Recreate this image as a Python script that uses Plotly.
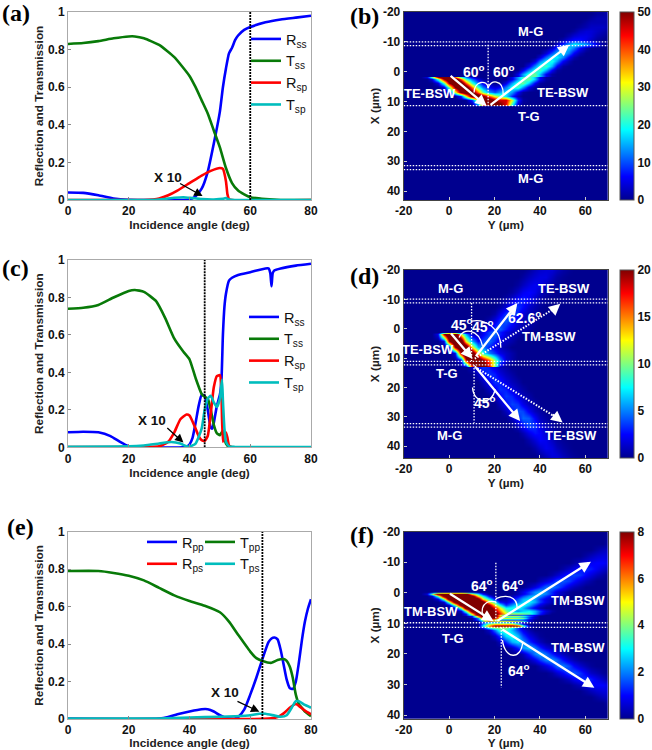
import numpy as np
import plotly.graph_objects as go

W, H = 652, 750
FONT = "Liberation Sans"
JET = [[0, "#00008f"], [0.125, "#0000ff"], [0.375, "#00ffff"], [0.625, "#ffff00"], [0.875, "#ff0000"], [1, "#800000"]]
BLUE, GREEN, RED, CYAN = "#0000ff", "#087a08", "#ff0000", "#00bdbd"

# ---------- panel (a) ----------
A_RSS_X = [0, 5, 10, 15, 20, 25, 35, 40, 42, 44, 46, 48, 50, 51, 52, 53, 54, 55, 56, 58, 60, 65, 70, 75, 80]
A_RSS_Y = [.04, .038, .025, .008, .001, 0, 0, .002, .02, .06, .15, .3, .47, .6, .7, .78, .81, .85, .875, .905, .92, .945, .96, .97, .98]
A_TSS_X = [0, 5, 10, 15, 20, 22, 25, 30, 35, 40, 42, 44, 46, 48, 50, 52, 54, 56, 58, 60, 65, 70, 80]
A_TSS_Y = [.83, .835, .845, .86, .87, .87, .86, .825, .76, .66, .6, .53, .46, .37, .28, .17, .09, .05, .03, .015, .005, 0, 0]
A_RSP_X = [0, 25, 28, 30, 33, 36, 40, 44, 47, 50, 51, 52, 52.5, 53, 54, 80]
A_RSP_Y = [0, 0, .003, .008, .025, .05, .09, .13, .155, .17, .165, .10, .03, .005, 0, 0]
A_TSP_X = [0, 25, 30, 35, 38, 41, 44, 48, 51, 52, 53, 55, 80]
A_TSP_Y = [0, 0, .003, .012, .015, .01, .005, .003, .006, .01, .003, 0, 0]

# ---------- panel (c) ----------
C_RSS_X = [0, 5, 10, 14, 17, 20, 22, 38, 39, 40, 41, 42, 43, 44, 45, 46, 47, 47.5, 48, 49, 50, 50.5, 51, 51.5, 52, 53, 54, 56, 60, 65, 66, 66.6, 67, 67.4, 68, 70, 75, 80]
C_RSS_Y = [.08, .083, .08, .06, .03, .005, 0, 0, .003, .015, .05, .13, .22, .28, .275, .2, .105, .1, .13, .22, .28, .35, .6, .75, .82, .89, .905, .92, .935, .955, .955, .93, .86, .93, .945, .955, .97, .98]
C_TSS_X = [0, 5, 10, 15, 20, 22, 25, 29, 32, 35, 38, 40, 42, 44, 45, 46, 47, 48, 49, 50, 51, 51.5, 52, 53, 55, 80]
C_TSS_Y = [.74, .745, .76, .8, .835, .84, .83, .78, .69, .58, .51, .47, .37, .285, .27, .26, .2, .12, .075, .065, .09, .05, .02, .003, 0, 0]
C_RSP_X = [0, 26, 30, 33, 35, 37, 39, 40, 42, 43, 44, 45, 46, 47, 48, 49, 50, 50.5, 51, 51.5, 52, 52.5, 53, 54, 80]
C_RSP_Y = [.002, .002, .005, .03, .08, .15, .175, .17, .1, .06, .038, .035, .06, .18, .32, .38, .385, .3, .03, .05, .08, .05, .01, 0, 0]
C_TSP_X = [0, 20, 25, 30, 34, 37, 39, 40, 42, 44, 45, 46, 47, 48, 49, 50, 50.7, 51, 51.5, 52, 53, 55, 80]
C_TSP_Y = [.003, .005, .01, .02, .028, .02, .005, .003, .02, .1, .2, .26, .275, .24, .215, .26, .36, .25, .1, .03, .005, .002, .002]

# ---------- panel (e) ----------
E_RPP_X = [0, 30, 33, 36, 40, 44, 46, 48, 50, 52, 55, 56, 58, 60, 62, 64, 66, 67, 68, 69, 70, 71, 72, 73, 74, 75, 76, 77, 78, 79, 80]
E_RPP_Y = [.002, .002, .01, .025, .04, .052, .052, .04, .02, .005, .002, .01, .05, .13, .22, .32, .41, .43, .435, .425, .37, .29, .21, .165, .16, .2, .3, .42, .52, .59, .64]
E_TPP_X = [0, 10, 15, 20, 25, 30, 35, 40, 45, 50, 53, 56, 60, 62, 64, 67, 69, 71, 72, 73, 74, 75, 76, 77, 78, 80]
E_TPP_Y = [.79, .79, .78, .765, .74, .7, .66, .63, .605, .57, .52, .45, .36, .325, .31, .3, .315, .32, .31, .28, .22, .13, .08, .06, .04, .015]
E_RPS_X = [0, 60, 66, 69, 71, 73, 75, 76, 78, 80]
E_RPS_Y = [0, 0, .002, .01, .03, .06, .08, .07, .045, .025]
E_TPS_X = [0, 30, 40, 50, 55, 60, 63, 65, 68, 70, 72, 74, 75, 76, 78, 80]
E_TPS_Y = [.002, .003, .008, .012, .015, .02, .028, .028, .018, .012, .02, .07, .095, .095, .075, .06]

# ---------- field maps: rows, X -> [(first Y, values every 2.5 um)] ----------
GRID_Y = np.arange(-20, 72.5, 2.5)
B_ROWS = {
    -21: [(62.5, [0, 1, 1, 2, 1])], -19.4: [(62.5, [0, 1, 1, 2, 1])], -17.9: [(60, [0, 1, 2, 2, 2, 1])],
    -16.5: [(57.5, [0, 1, 2, 2, 2, 2, 1])], -15: [(55, [0, 1, 2, 3, 3, 3, 2, 1])], -13.6: [(52.5, [0, 1, 3, 4, 4, 3, 2, 1])],
    -12.1: [(50, [0, 2, 4, 5, 5, 4, 2, 1])], -10.7: [(47.5, [0, 2, 5, 7, 7, 5, 3, 1])],
    -9.2: [(45, [0, 3, 8, 14, 18, 16, 14, 10, 5, 1])], -7.8: [(42.5, [0, 3, 9, 14, 16, 12, 6, 2])],
    -6.3: [(40, [0, 4, 10, 15, 17, 12, 6, 2])], -4.9: [(37.5, [0, 4, 11, 17, 18, 13, 6, 2])],
    -3.45: [(35, [0, 4, 12, 18, 20, 14, 6, 2])], -2: [(32.5, [0, 5, 13, 20, 22, 15, 6, 1])],
    -.56: [(30, [0, 5, 13, 20, 22, 15, 6, 1])], .88: [(27.5, [0, 5, 14, 22, 24, 16, 6, 1])],
    1.3: [(27.5, [0, 5, 14, 22, 24, 16, 6, 1])],
    1.7: [(-12.5, [0, 4, 22, 48, 60, 60, 40, 22, 12, 5, 1]), (25, [0, 5, 14, 22, 24, 16, 6, 1])],
    2.33: [(-10, [0, 4, 22, 48, 60, 60, 40, 22, 12, 5, 1]), (25, [0, 5, 14, 22, 24, 16, 6, 1])],
    3.77: [(-7.5, [0, 4, 22, 48, 60, 60, 40, 22, 12, 5, 2]), (22.5, [0, 5, 14, 22, 24, 16, 6, 1])],
    5.22: [(-5, [0, 4, 24, 50, 60, 58, 38, 22, 12, 6, 4, 6, 12, 20, 22, 14, 5, 1])],
    6.66: [(-2.5, [0, 6, 28, 52, 60, 55, 38, 24, 14, 10, 14, 18, 14, 6, 1])],
    8.11: [(2.5, [0, 8, 30, 55, 60, 52, 40, 30, 24, 18, 8, 2])],
    9.55: [(7.5, [0, 8, 30, 55, 60, 50, 46, 46, 30, 8, 1])],
    11: [(10, [0, 12, 40, 55, 55, 52, 45, 20, 3, 0])],
    11.6: [], 44: [],
}
D_ROWS = {
    -21: [(32.5, [0, .4, 1, 1.4, 1.6, 1.6, 1, .5, .2])], -20: [(32.5, [0, .4, 1, 1.4, 1.6, 1.6, 1, .5, .2])],
    -17.5: [(30, [0, .4, 1, 1.5, 1.8, 1.8, 1.1, .5, .2])], -15: [(27.5, [0, .4, 1.1, 1.8, 2.2, 1.9, 1.1, .5, .2])],
    -12.5: [(25, [0, .4, 1.2, 2.2, 2.6, 2.1, 1.2, .5, .2])], -10: [(22.5, [0, .5, 1.4, 2.6, 3, 2.4, 1.3, .6, .2])],
    -7.5: [(20, [0, .5, 1.6, 3, 3.5, 2.6, 1.4, .7, .3])], -5: [(17.5, [0, .6, 2, 3.5, 4, 3, 1.6, .8, .5])],
    -2.5: [(15, [0, .7, 2, 3.5, 4.2, 3, 1.6, .9, .6, .4])], 0: [(12.5, [0, .8, 2.2, 3.5, 4.4, 3, 1.8, 1, .7, .5])],
    1.2: [(10, [.3, .8, 2.2, 3.5, 4.5, 3, 1.8, 1, .7, .5])],
    1.8: [(-7.5, [0, 2, 19, 26, 24, 12, 6, 1, 0]), (10, [0, 1, 2.2, 3.6, 4.6, 3, 1.8, 1, .6])],
    4: [(-5, [0, 2, 19, 26, 24, 12, 6, 1, 0]), (7.5, [0, 1, 2.5, 3.8, 4.8, 3.2, 1.8, 1, .6])],
    6.2: [(-2.5, [0, 2, 19, 26, 24, 13, 6, 2, 1]), (7.5, [1, 2.5, 4, 5, 3.2, 1.8, 1, .5])],
    8.3: [(0, [0, 2, 19, 26, 24, 14, 8, 5, 3.5, 2, 1.2, .6])],
    10.5: [(2.5, [0, 2, 18, 26, 24, 20, 16, 10, 5, 1.5, .6])],
    12.6: [(5, [0, 3, 17, 22, 22, 18, 10, 2, .3])],
    13.1: [(7.5, [0, 1, 2.6, 3.4, 3, 1.8, 1, .5])], 15.5: [(10, [0, 1, 2.6, 3.4, 3, 1.8, 1, .5])],
    18: [(12.5, [0, 1, 2.2, 3.4, 3, 1.8, 1, .5])], 20.5: [(15, [0, 1, 2.2, 3.4, 3, 1.8, 1, .5])],
    23: [(17.5, [0, 1, 2.3, 3.6, 3.1, 1.8, 1, .5])], 25.5: [(20, [0, 1, 2.5, 3.8, 3.4, 2, 1, .5])],
    28: [(22.5, [0, 1, 2.6, 4.2, 3.8, 2.2, 1, .5])], 30.5: [(25, [0, 1, 2.8, 4.5, 4.2, 2.4, 1, .5])],
    33: [(27.5, [0, 1, 2.6, 3.8, 3.4, 2, 1, .5])], 35.5: [(30, [0, .8, 2, 2.8, 2.5, 1.5, .7, .3])],
    38: [(32.5, [0, .7, 1.6, 2.4, 2.1, 1.2, .5, .2])], 40.5: [(35, [0, .6, 1.4, 2.1, 1.8, 1, .5, .2])],
    43: [(37.5, [0, .5, 1.2, 1.8, 1.6, .9, .4, .2])], 45: [(40, [0, .5, 1.1, 1.6, 1.4, .8, .3, .2])],
}
F_ROWS = {
    -21: [], -16: [(67.5, [0, .2, .3])], -14: [(62.5, [0, .2, .4, .5, .5])], -12: [(57.5, [0, .2, .4, .6, .7, .7, .6, .4])],
    -10: [(52.5, [0, .2, .4, .7, .9, 1, 1, .8, .6, .3])], -8: [(47.5, [0, .2, .5, .8, 1.1, 1.3, 1.2, .9, .6, .4, .2])],
    -6: [(42.5, [0, .2, .5, .9, 1.3, 1.5, 1.4, 1, .7, .4, .2])], -4: [(37.5, [0, .3, .6, 1, 1.5, 1.7, 1.5, 1.1, .7, .4, .2])],
    -2: [(32.5, [0, .3, .7, 1.2, 1.8, 2, 1.7, 1.2, .7, .4, .2])], -.3: [(27.5, [0, .3, .8, 1.4, 2.1, 2.4, 2, 1.3, .7, .4, .1])],
    .3: [(-12.5, [0, .6, 4, 9, 10, 10, 10, 10, 9, 5, 3, 1, 0]), (27.5, [0, .3, .8, 1.4, 2.1, 2.4, 2, 1.3, .7, .4, .1])],
    1: [(-10, [0, .6, 4, 9, 10, 10, 10, 10, 9, 5, 3, 1, 0]), (25, [0, .3, .8, 1.5, 2.2, 2.6, 2.1, 1.4, .8, .4, .1])],
    2: [(-7.5, [0, .6, 4, 9, 10, 10, 10, 10, 9, 5, 3, 1, 0]), (25, [.3, .9, 1.6, 2.4, 2.8, 2.2, 1.4, .8, .4, .1])],
    3: [(-5, [0, .6, 4, 9, 10, 10, 10, 10, 9, 5, 3, 1, .4]), (25, [.6, 1.2, 1.9, 2.6, 3, 2.4, 1.5, .8, .4, .1])],
    4: [(-2.5, [0, .6, 4, 9, 10, 10, 10, 9, 8, 5, 3, 1, .5]), (22.5, [.6, 1.3, 2.1, 2.9, 3.2, 2.5, 1.5, .8, .3])],
    5: [(0, [0, .6, 4, 9, 10, 10, 10, 9, 7, 5, 3, 1.2, .8]), (20, [1, 1.5, 2.3, 3.1, 3.3, 2.5, 1.5, .8, .3])],
    6: [(2.5, [0, .6, 4, 9, 10, 10, 9.5, 8, 6, 4, 2.5, 2, 2.6, 3, 2.4, 1.5, .7, .2])],
    6.7: [(5, [0, 1, 5, 9, 10, 10, 9, 7, 5, 4.4, 4.4, 4, 3.6, 2.4, 1.2, .4])],
    7.2: [(5, [0, 1, 4, 9, 10, 10, 9, 5, 2, 1.5, 1.5, 1.5, 1.2, 1, .5])],
    7.6: [(7.5, [0, 1, 6, 9, 10, 9, 6, 4.6, 4.6, 4.4, 3.6, 2, .8])],
    8: [(7.5, [0, 1, 4, 8, 9.5, 8, 2.5, 1.5, 1.5, 1.5, 1.2, .8])],
    8.3: [(10, [0, 2, 7, 9, 8, 5, 5, 5, 4.6, 4.2, 1.6, .5])],
    8.7: [(10, [0, 1.5, 4, 7, 4, 1.8, 1.5, 1.5, 1.5, 1.2, .6])],
    9.1: [(12.5, [0, 4, 6, 5.5, 5, 5, 5, 4.5, 3.6, 1])],
    9.6: [(12.5, [0, 1, 2, 2, 2, 2, 1.5, 1, .5])],
    10.2: [(12.5, [0, 2, 4, 5, 5, 5, 5, 3, .8])],
    10.7: [(12.5, [0, 3, 6, 8, 8, 8, 8, 8, 4, .6])],
    11.3: [(12.5, [0, 1, 3, 4, 4, 4, 3, 1.5, .5])],
    12: [(15, [0, .5, 2, 3.5, 3.5, 2.5, 1.5, .8, .3])], 14: [(17.5, [0, .5, 1.5, 2.8, 3.2, 2.5, 1.5, .8, .4, .1])],
    16: [(20, [0, .4, 1.3, 2.4, 2.8, 2.2, 1.4, .8, .4, .1])], 18: [(25, [0, .4, 1.2, 2.2, 2.6, 2, 1.3, .7, .4, .1])],
    20: [(30, [0, .4, 1.2, 2, 2.4, 1.9, 1.2, .7, .4, .1])], 22: [(32.5, [0, .3, .8, 1.4, 2, 2.2, 1.8, 1.1, .6, .3, .1])],
    24: [(37.5, [0, .3, .7, 1.2, 1.8, 2, 1.6, 1, .6, .3, .1])], 26: [(42.5, [0, .2, .6, 1, 1.5, 1.7, 1.4, .9, .5, .3, .1])],
    28: [(47.5, [0, .2, .5, .9, 1.2, 1.4, 1.2, .8, .5, .2, .1])], 30: [(52.5, [0, .2, .4, .7, .9, 1, 1, .8, .6, .3])],
    32: [(57.5, [0, .2, .4, .6, .7, .7, .6, .4])], 34: [(62.5, [0, .2, .4, .5, .5])], 36: [(67.5, [0, .2, .3])], 38: [], 42: [],
}


def field(rows):
    xs = sorted(rows)
    z = np.zeros((len(xs), len(GRID_Y)))
    for i, x in enumerate(xs):
        for y0, vals in rows[x]:
            j0 = int(round((y0 + 20) / 2.5))
            for k, v in enumerate(vals):
                if j0 + k < len(GRID_Y):
                    z[i, j0 + k] = max(z[i, j0 + k], v)
    return xs, z.tolist()


# panel pixel boxes: left, top, right, bottom
BOX = {"": (68, 12, 311, 200), "2": (403.7, 12, 608, 200), "3": (68, 260, 311, 447.3),
       "4": (403.7, 270, 608, 458), "5": (68, 531.7, 311, 719), "6": (403.7, 531.7, 608, 719)}
TICKF = dict(family=FONT, size=12, color="#111")
TITLEF = dict(family=FONT, size=11.8, color="#222")
fig = go.Figure()
layout = dict(width=W, height=H, margin=dict(l=0, r=0, t=0, b=0, autoexpand=False), showlegend=True,
              paper_bgcolor="white", plot_bgcolor="white", font=dict(family=FONT),
              annotations=[], shapes=[])


def b(t):
    return f"<b>{t}</b>"


for k, (l, t, r, bt) in BOX.items():
    xa = dict(domain=[l / W, r / W], anchor="y" + k, mirror=True, showline=True, linecolor="#aaa", linewidth=1,
              ticks="inside", ticklen=3, tickcolor="#888", showgrid=False, zeroline=False, tickfont=TICKF,
              title=dict(font=TITLEF, standoff=1))
    ya = dict(domain=[1 - bt / H, 1 - t / H], anchor="x" + k, mirror=True, showline=True, linecolor="#aaa", linewidth=1,
              ticks="inside", ticklen=3, tickcolor="#888", showgrid=False, zeroline=False, tickfont=TICKF,
              title=dict(font=TITLEF, standoff=1))
    if k in ("", "3", "5"):
        xa.update(range=[0, 80], tickvals=[0, 20, 40, 60, 80], title_text=b("Incidence angle (deg)"))
        ya.update(range=[0, 1], tickvals=[0, .2, .4, .6, .8, 1], ticktext=[b(v) for v in ["0", "0.2", "0.4", "0.6", "0.8", "1"]],
                  title_text=b("Reflection and Transmission"))
        xa.update(ticktext=[b(v) for v in [0, 20, 40, 60, 80]])
    else:
        xa.update(range=[-20, 70], tickvals=[-20, 0, 20, 40, 60], ticktext=[b(v) for v in [-20, 0, 20, 40, 60]],
                  title_text=b("Y (µm)"), linecolor="#444", tickcolor="#ccc")
        ya.update(tickvals=list(range(-20, 50, 10)), ticktext=[b(v) for v in range(-20, 50, 10)],
                  title_text=b("X (µm)"), linecolor="#444", tickcolor="#ccc")
        ya["title"] = dict(font=TITLEF, standoff=0)
        ya["title_text"] = b("X (µm)")
    layout["xaxis" + k] = xa
    layout["yaxis" + k] = ya
layout["yaxis2"]["range"] = [43, -20]
layout["yaxis4"]["range"] = [44, -20]
layout["yaxis6"]["range"] = [41.3, -20]

SERIES = [
    ("", "legend", "R<sub>ss</sub>", A_RSS_X, A_RSS_Y, BLUE), ("", "legend", "T<sub>ss</sub>", A_TSS_X, A_TSS_Y, GREEN),
    ("", "legend", "R<sub>sp</sub>", A_RSP_X, A_RSP_Y, RED), ("", "legend", "T<sub>sp</sub>", A_TSP_X, A_TSP_Y, CYAN),
    ("3", "legend2", "R<sub>ss</sub>", C_RSS_X, C_RSS_Y, BLUE), ("3", "legend2", "T<sub>ss</sub>", C_TSS_X, C_TSS_Y, GREEN),
    ("3", "legend2", "R<sub>sp</sub>", C_RSP_X, C_RSP_Y, RED), ("3", "legend2", "T<sub>sp</sub>", C_TSP_X, C_TSP_Y, CYAN),
    ("5", "legend3", "R<sub>pp</sub>", E_RPP_X, E_RPP_Y, BLUE), ("5", "legend4", "T<sub>pp</sub>", E_TPP_X, E_TPP_Y, GREEN),
    ("5", "legend3", "R<sub>ps</sub>", E_RPS_X, E_RPS_Y, RED), ("5", "legend4", "T<sub>ps</sub>", E_TPS_X, E_TPS_Y, CYAN),
]
for k, leg, name, xv, yv, col in SERIES:
    fig.add_trace(go.Scatter(x=xv, y=yv, name=name, mode="lines", legend=leg, xaxis="x" + k, yaxis="y" + k,
                             line=dict(color=col, width=2.6, shape="spline", smoothing=0.5), cliponaxis=True))

LEGF = dict(family=FONT, size=14.5, color="#111")
for name, (px, py) in {"legend": (246, 23), "legend2": (244, 301), "legend3": (142, 526), "legend4": (200, 526)}.items():
    layout[name] = dict(x=px / W, y=1 - py / H, xanchor="left", yanchor="top", bgcolor="rgba(0,0,0,0)", font=LEGF,
                        tracegroupgap=0, itemclick=False, itemdoubleclick=False)

# incidence markers
for k, ang in (("", 60), ("3", 45), ("5", 64)):
    layout["shapes"].append(dict(type="line", xref="x" + k, yref="y" + k, x0=ang, x1=ang, y0=0, y1=1,
                                 line=dict(color="black", width=1.8, dash="2px,1px")))

# heatmaps
for k, rows, zmax, dt in (("2", B_ROWS, 50, 10), ("4", D_ROWS, 20, 5), ("6", F_ROWS, 8, 2)):
    xs, z = field(rows)
    l, tp, r, bt = BOX[k]
    fig.add_trace(go.Heatmap(x=GRID_Y, y=xs, z=z, zmin=0, zmax=zmax, colorscale=JET, zsmooth="best", xaxis="x" + k, yaxis="y" + k,
                             showlegend=False, hoverinfo="skip",
                             colorbar=dict(x=619.7 / W, xanchor="left", y=1 - tp / H, yanchor="top", lenmode="pixels",
                                           len=bt - tp, thicknessmode="pixels", thickness=14.3, xpad=0, ypad=0,
                                           outlinecolor="#555", outlinewidth=1, ticks="", tick0=0, dtick=dt,
                                           tickfont=TICKF, tickprefix="<b>", ticksuffix="</b>")))


def txt(k, s, x, y, size=13, color="white"):
    layout["annotations"].append(dict(xref="x" + k, yref="y" + k, x=x, y=y, text=b(s), showarrow=False,
                                      font=dict(family=FONT, size=size, color=color), xanchor="center", yanchor="middle"))


def ptxt(s, px, py, size, family, color):
    layout["annotations"].append(dict(xref="paper", yref="paper", x=px / W, y=1 - py / H, text=b(s), showarrow=False,
                                      xanchor="center", yanchor="middle", font=dict(family=family, size=size, color=color)))


def arrow(k, x0, y0, x1, y1, color="white", width=2.3, size=1.0):
    layout["annotations"].append(dict(xref="x" + k, yref="y" + k, axref="x" + k, ayref="y" + k, x=x1, y=y1, ax=x0, ay=y0,
                                      text="", showarrow=True, arrowhead=2, arrowsize=size, arrowwidth=width, arrowcolor=color))


def dline(k, x0, y0, x1, y1, width=1.3):
    layout["shapes"].append(dict(type="line", xref="x" + k, yref="y" + k, x0=x0, x1=x1, y0=y0, y1=y1,
                                 line=dict(color="white", width=width, dash="1.5px,1.5px")))


def curve(k, p0, c0, c1, p1):
    layout["shapes"].append(dict(type="path", xref="x" + k, yref="y" + k,
                                 path=f"M {p0[0]} {p0[1]} C {c0[0]} {c0[1]} {c1[0]} {c1[1]} {p1[0]} {p1[1]}",
                                 line=dict(color="white", width=1.3)))


# X 10 labels
for k, (tx, ty), a in (("", (168, 177), (36.4, .092, 44.3, .021)), ("3", (151.7, 420.7), (32.2, .11, 38, .025)), ("5", (225, 692), (55.3, .098, 63, .039))):
    ptxt("X 10", tx, ty, 13.5, FONT, "#111")
    arrow(k, a[0], a[1], a[2], a[3], color="black", width=1.3, size=1.3)

# panel letters
for s, px, py in (("(a)", 16, 13), ("(b)", 364, 16), ("(c)", 15, 268), ("(d)", 364, 276), ("(e)", 20, 527), ("(f)", 362, 535)):
    ptxt(s, px, py, 24, "Liberation Serif", "black")

DEG = "<sup>o</sup>"
# (b)
for s, x, y in (("M-G", 36, -13.6), ("TE-BSW", -8.4, 7.3), ("TE-BSW", 50, 7), ("T-G", 35.3, 14.9), ("M-G", 36, 35.8)):
    txt("2", s, x, y)
for x in (11, 24.3):
    txt("2", "60" + DEG, x, -.3, size=14)
for y in (-10, -8.7, 11.4, 31.5, 32.8):
    dline("2", -20, y, 70, y)
dline("2", 17.2, -9, 17.2, 11.4)
arrow("2", 0, 1, 16.6, 11.5)
arrow("2", 17.6, 11.5, 53, -9)
curve("2", (11, 7), (11, 3), (17, 2.5), (17.2, 5.5))
curve("2", (17.2, 5.5), (18, 2.5), (24, 2.5), (23.8, 7.5))
# (d)
for s, x, y in (("M-G", .7, -13.6), ("TE-BSW", 50.7, -13.6), ("TM-BSW", 43.8, 2.8), ("TE-BSW", -9.3, 7.2), ("T-G", -1, 15.3),
                ("M-G", 0, 36.2), ("TE-BSW", 53.7, 36.2)):
    txt("4", s, x, y)
for s, x, y in (("45" + DEG, 5.6, -1.5), ("45" + DEG, 15, -1.1), ("62.6" + DEG, 33, -4), ("45" + DEG, 15.9, 24.8)):
    txt("4", s, x, y, size=14)
for y in (-10.1, -8.8, 11.1, 12.3, 32.3, 33.5):
    dline("4", -20, y, 70, y)
dline("4", 9.9, -8.8, 9.9, 11)
dline("4", 11, 12.3, 11, 32)
arrow("4", .3, 1.1, 10.3, 10.2)
arrow("4", 11.3, 9.9, 30.1, -8.8)
arrow("4", 11.3, 12.7, 31.3, 31.4)
dline("4", 11.3, 10.2, 47.5, -7.5, width=2)
arrow("4", 45, -5.8, 49, -8.5)
dline("4", 11.3, 12.9, 48, 30.6, width=2)
arrow("4", 45, 28.8, 50, 31.9)
curve("4", (4.4, 3), (6, -.5), (13, 0), (14.7, 5.8))
curve("4", (9.9, -2.6), (16, -3.5), (23, 0), (22.8, 6.5))
curve("4", (10.3, 20), (11, 26), (19, 26), (20.3, 20.6))
# (f)
for s, x, y in (("TM-BSW", -7.8, 6.2), ("TM-BSW", 56.6, 2.4), ("T-G", 1.5, 14.8), ("TM-BSW", 56.6, 18)):
    txt("6", s, x, y)
for x, y in ((14.7, -2.7), (28, -2.5), (30.6, 25.4)):
    txt("6", "64" + DEG, x, y, size=14)
for y in (9.8, 11.3):
    dline("6", -20, y, 70, y)
dline("6", 20.6, -9.8, 20.6, 9.8)
dline("6", 23, 11.3, 23, 31)
arrow("6", -.3, 0, 19.6, 9.3)
arrow("6", 20.6, 9.5, 62.5, -10.2)
arrow("6", 22.8, 11.7, 64, 31.1)
curve("6", (20.6, 3), (14, 1.5), (12.5, 8), (17.6, 8.7))
curve("6", (20.6, 1.9), (25, .5), (30, 1), (30, 5))
curve("6", (23.5, 15.5), (24.5, 22), (32, 22), (32.4, 16))

fig.update_layout(**layout)
fig.write_html("out.html", config={"displayModeBar": False}, post_script="document.body.style.margin='0';")
